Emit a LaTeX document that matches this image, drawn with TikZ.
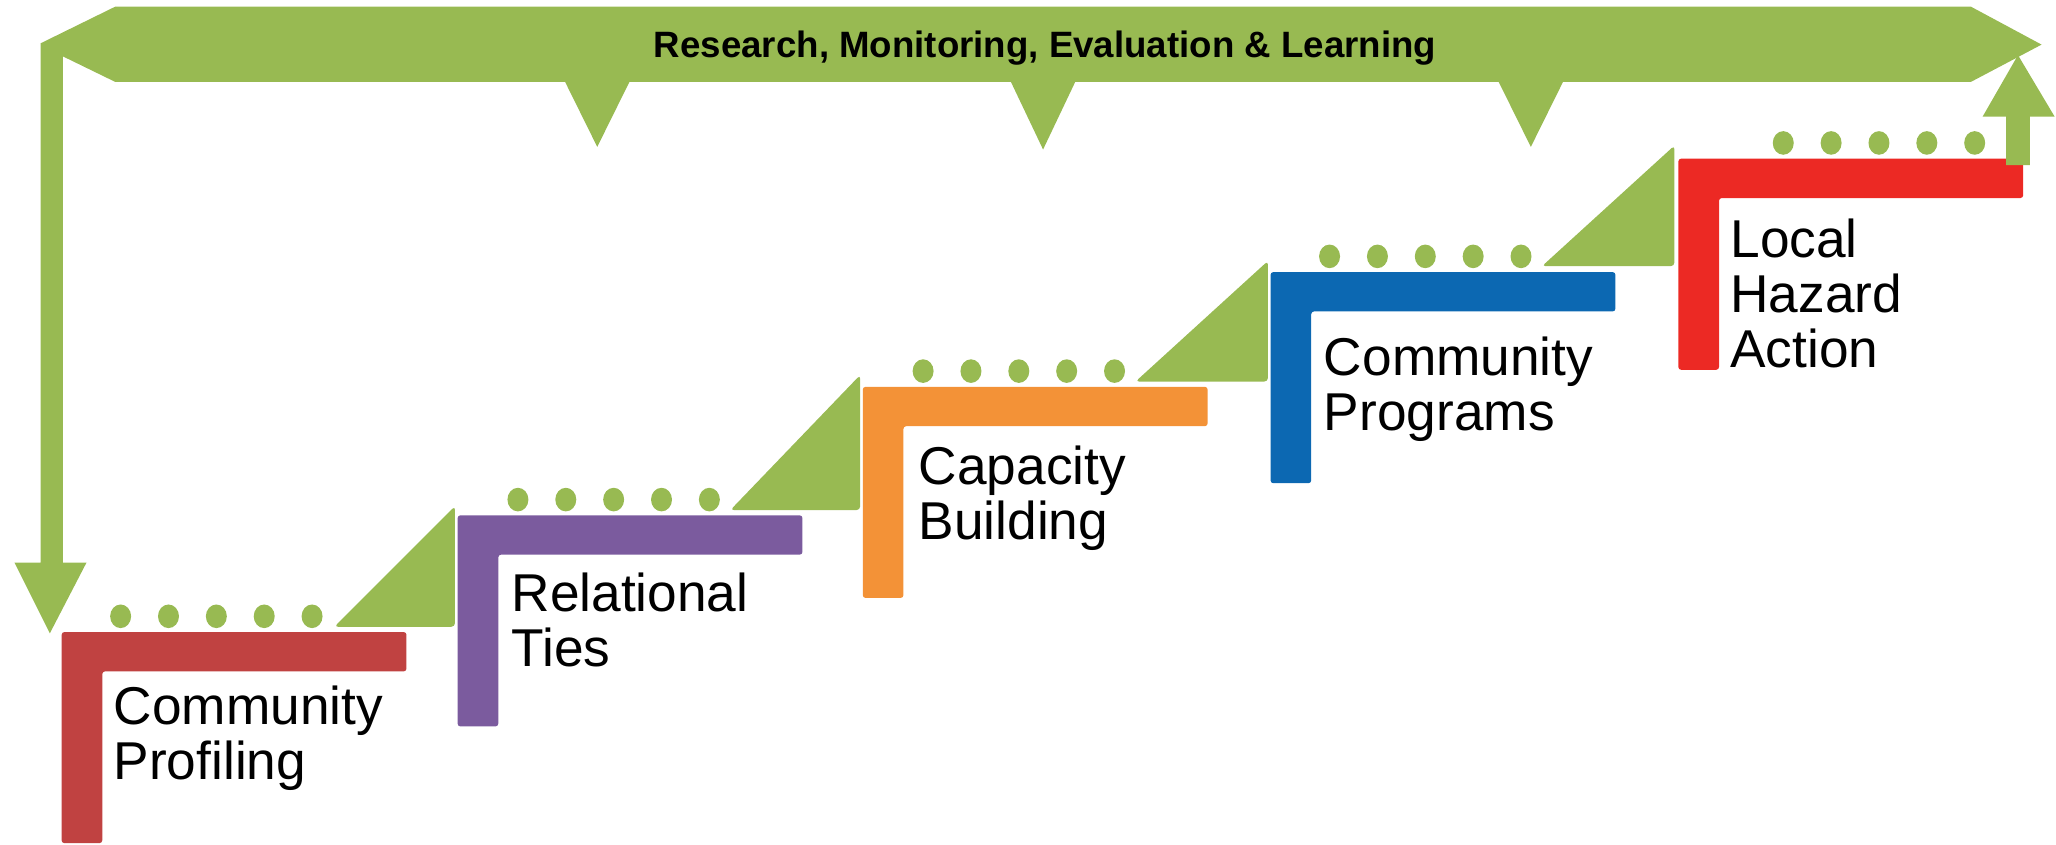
\documentclass[tikz,border=0pt]{standalone}
\usepackage{fontspec}
\setmainfont{Liberation Sans}
\usepackage{tikz}
\definecolor{loopgreen}{RGB}{152,186,82}
\definecolor{profred}{RGB}{192,66,65}
\definecolor{tiepurple}{RGB}{123,91,158}
\definecolor{caporange}{RGB}{243,146,55}
\definecolor{progblue}{RGB}{12,104,178}
\definecolor{hazred}{RGB}{236,41,36}
\tikzstyle{loopband}  = [fill=loopgreen]
\tikzstyle{ramp}      = [fill=loopgreen,rounded corners=0.8pt]
\tikzstyle{dot}       = [fill=loopgreen]
\tikzstyle{steplabel} = [anchor=north west,inner sep=0pt,align=left,font=\fontsize{11.55pt}{11.95pt}\selectfont]
\tikzstyle{bandlabel} = [anchor=base,inner sep=0pt,font=\bfseries\fontsize{7.95pt}{9pt}\selectfont]
% stair: colour, left, top, first dot
\newcommand{\stair}[4]{%
  \fill[#1,rounded corners=0.6pt] (#2,#3) ++(0,161) -- ++(0,-161) -- ++(263,0) -- ++(0,30) -- ++(-232,0) -- ++(0,131) -- cycle;
  \fill[dot] ({#4},{#3-12})      ellipse [x radius=0.08cm,y radius=0.09cm];
  \fill[dot] ({#4+36.5},{#3-12}) ellipse [x radius=0.08cm,y radius=0.09cm];
  \fill[dot] ({#4+73},{#3-12})   ellipse [x radius=0.08cm,y radius=0.09cm];
  \fill[dot] ({#4+109.5},{#3-12}) ellipse [x radius=0.08cm,y radius=0.09cm];
  \fill[dot] ({#4+146},{#3-12})  ellipse [x radius=0.08cm,y radius=0.09cm];
}

\begin{document}
\begin{tikzpicture}[x=0.01cm,y=-0.01cm]
\useasboundingbox (0,0) rectangle (1568,644);

% loop band with its arrows
\fill[loopband] (88,5) -- (31,33) -- (31,429) -- (11,429) -- (38,483) -- (66,429) -- (48,429) -- (48,43) -- (88,62.5)
  -- (431,62.5) -- (455.5,112) -- (480,62.5) -- (771,62.5) -- (795.5,114) -- (820,62.5)
  -- (1143,62.5) -- (1167.5,112) -- (1192,62.5) -- (1503,62.5) -- (1557,34) -- (1503,5) -- cycle;
\node[bandlabel] (band) at (797,44) {Research, Monitoring, Evaluation \& Learning};

% ramps
\fill[ramp] (255,478) -- (347,386) -- (347,478) -- cycle;
\fill[ramp] (557,389) -- (656,286) -- (656,389) -- cycle;
\fill[ramp] (866,291) -- (967,199) -- (967,291) -- cycle;
\fill[ramp] (1176,203) -- (1277,111) -- (1277,203) -- cycle;

% stairs
\stair{profred}{47}{482}{92}
\stair{tiepurple}{349}{393}{395}
\stair{caporange}{658}{295}{704}
\stair{progblue}{969}{207.5}{1014}
\stair{hazred}{1280}{121}{1360}

\node[steplabel] (profiling) at (86,522)    {Community\\Profiling};
\node[steplabel] (ties)      at (389.5,436) {Relational\\Ties};
\node[steplabel] (capacity)  at (700,339)   {Capacity\\Building};
\node[steplabel] (programs)  at (1009,256)  {Community\\Programs};
\node[steplabel] (hazard)    at (1319,166)  {Local\\Hazard\\Action};

% up arrow back to the band
\fill[loopband] (1530,126) -- (1530,89) -- (1512,89) -- (1539,42) -- (1567,89) -- (1548,89) -- (1548,126) -- cycle;
\end{tikzpicture}
\end{document}
